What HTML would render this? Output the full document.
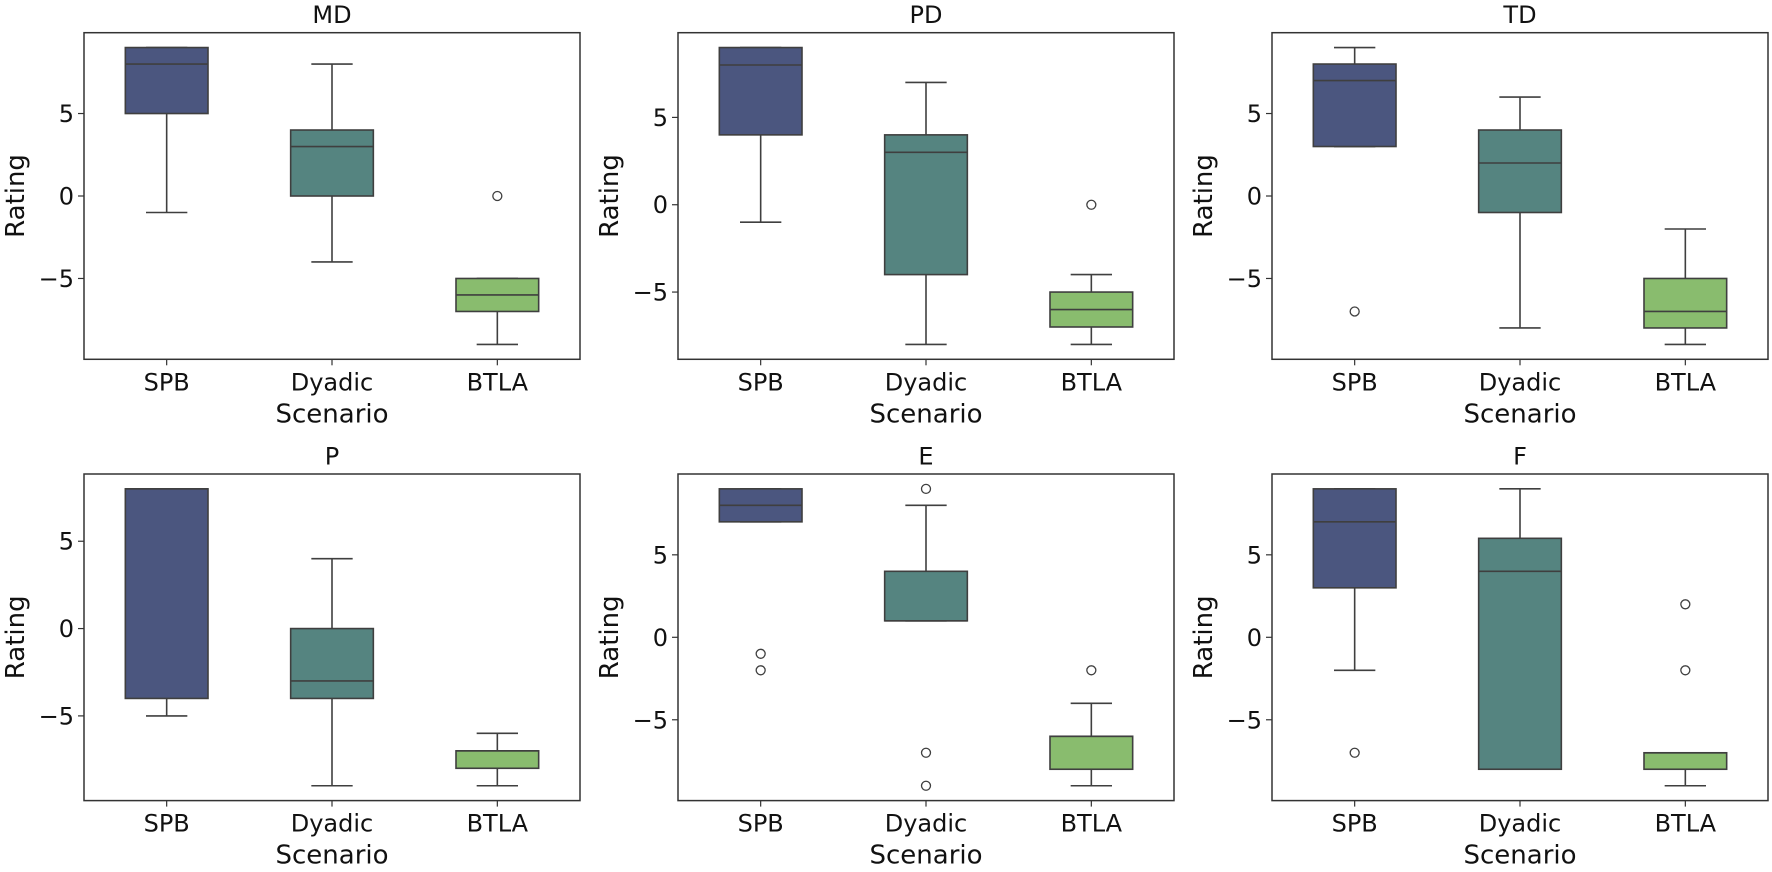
<!DOCTYPE html>
<html><head><meta charset="utf-8"><style>
html,body{margin:0;padding:0;background:#fff;}
svg text{font-family:"DejaVu Sans","Liberation Sans",sans-serif;fill:#111;}
</style></head><body>
<svg id="chart" width="1772" height="867" xmlns="http://www.w3.org/2000/svg"></svg>
<script>
const panelTitles = ["MD","PD","TD","P","E","F"];
const categories = ["SPB","Dyadic","BTLA"];
const yTicks = [-5,0,5];
// per panel: [SPB, Dyadic, BTLA]
const q1s = [[5,0,-7],[4,-4,-7],[3,-1,-8],[-4,-4,-8],[7,1,-8],[3,-8,-8]];
const medians = [[8,3,-6],[8,3,-6],[7,2,-7],[8,-3,-7],[8,1,-6],[7,4,-7]];
const q3s = [[9,4,-5],[9,4,-5],[8,4,-5],[8,0,-7],[9,4,-6],[9,6,-7]];
const whiskerLows = [[-1,-4,-9],[-1,-8,-8],[3,-8,-9],[-5,-9,-9],[7,1,-9],[-2,-8,-9]];
const whiskerHighs = [[9,8,-5],[9,7,-4],[9,6,-2],[8,4,-6],[9,8,-4],[9,9,-7]];
const outliers = [[[],[],[0]],[[],[],[0]],[[-7],[],[]],[[],[],[]],[[-1,-2],[9,-7,-9],[-2]],[[-7],[],[2,-2]]];

const colors = ["#4b567f","#558480","#89bc6e"];
const NS="http://www.w3.org/2000/svg";
const svg=document.getElementById('chart');
function mk(tag,attrs,parent){const e=document.createElementNS(NS,tag);for(const k in attrs)e.setAttribute(k,attrs[k]);(parent||svg).appendChild(e);return e;}
const lefts=[84,678,1272], tops=[32.7,474], W=496, H=326.6;

for(let p=0;p<6;p++){
  const L=lefts[p%3], T=tops[Math.floor(p/3)];
  const g=mk('g',{});
  
  
  let all=[];
  for(let c=0;c<3;c++){all.push(whiskerLows[p][c],whiskerHighs[p][c],q1s[p][c],q3s[p][c],...outliers[p][c]);}
  const mn=Math.min(...all), mx=Math.max(...all), pad=(mx-mn)*0.05;
  const y0=mn-pad, y1=mx+pad;
  const y=v=>T+H-(v-y0)/(y1-y0)*H;
  const x=i=>L+W*(i+0.5)/3;
  const bw=W/3*0.5, cw=bw/2;
  for(let c=0;c<3;c++){
    const cx=x(c);
    const bg=mk('g',{},g);
    
    
    const st={stroke:'#3f3f3f','stroke-width':1.6,fill:'none'};
    mk('line',Object.assign({x1:cx,x2:cx,y1:y(whiskerLows[p][c]),y2:y(q1s[p][c])},st),bg);
    mk('line',Object.assign({x1:cx,x2:cx,y1:y(q3s[p][c]),y2:y(whiskerHighs[p][c])},st),bg);
    mk('line',Object.assign({x1:cx-cw/2,x2:cx+cw/2,y1:y(whiskerLows[p][c]),y2:y(whiskerLows[p][c])},st),bg);
    mk('line',Object.assign({x1:cx-cw/2,x2:cx+cw/2,y1:y(whiskerHighs[p][c]),y2:y(whiskerHighs[p][c])},st),bg);
    mk('rect',{x:cx-bw/2,y:y(q3s[p][c]),width:bw,height:Math.max(0.5,y(q1s[p][c])-y(q3s[p][c])),fill:colors[c],stroke:'#3f3f3f','stroke-width':1.6},bg);
    mk('line',Object.assign({x1:cx-bw/2,x2:cx+bw/2,y1:y(medians[p][c]),y2:y(medians[p][c])},st),bg);
    outliers[p][c].forEach(v=>{
      const o=mk('circle',{cx:cx,cy:y(v),r:4.5,fill:'none',stroke:'#3f3f3f','stroke-width':1.3},bg);
      
      
    });
    mk('line',{x1:cx,x2:cx,y1:T+H,y2:T+H+6,stroke:'#333','stroke-width':1.2},g);
    const tl=mk('text',{x:cx,y:T+H+31,'text-anchor':'middle','font-size':24},g);
    tl.textContent=categories[c];
    
    
  }
  yTicks.forEach(v=>{
    mk('line',{x1:L-6,x2:L,y1:y(v),y2:y(v),stroke:'#333','stroke-width':1.2},g);
    const t=mk('text',{x:L-10,y:y(v)+8.5,'text-anchor':'end','font-size':24},g);
    t.textContent=v<0?'\u2212'+Math.abs(v):String(v);
    
    
  });
  const fr=mk('rect',{x:L,y:T,width:W,height:H,fill:'none',stroke:'#333','stroke-width':1.5},g);
  
  
  const ti=mk('text',{x:L+W/2,y:T-9.5,'text-anchor':'middle','font-size':24},g);
  ti.textContent=panelTitles[p];
  
  
  const xl=mk('text',{x:L+W/2,y:T+H+63,'text-anchor':'middle','font-size':26},g);
  xl.textContent='Scenario';
  
  
  const yc=T+H/2;
  const yl=mk('text',{x:L-60,y:yc,'text-anchor':'middle','font-size':26,transform:'rotate(-90,'+(L-60)+','+yc+')'},g);
  yl.textContent='Rating';
  
  
}
</script>
</body></html>
